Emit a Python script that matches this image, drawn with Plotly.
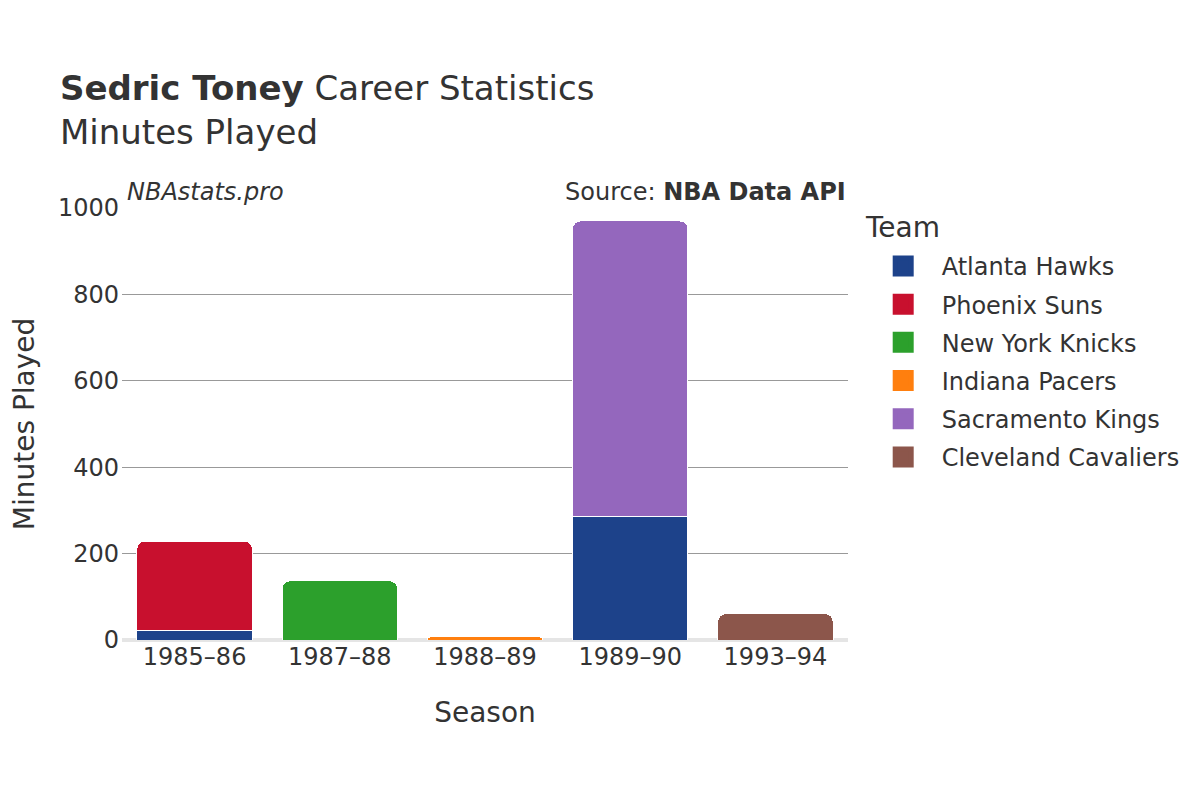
import plotly.graph_objects as go

seasons = ["1985–86", "1987–88", "1988–89", "1989–90", "1993–94"]
teams = ["Atlanta Hawks", "Phoenix Suns", "New York Knicks", "Indiana Pacers", "Sacramento Kings", "Cleveland Cavaliers"]
colors = ["#1d428a", "#c8102e", "#2ca02c", "#ff7f0e", "#9467bd", "#8c564b"]
minutes = {
    "Atlanta Hawks": [23, None, None, 286, None],
    "Phoenix Suns": [206, None, None, None, None],
    "New York Knicks": [None, 137, None, None, None],
    "Indiana Pacers": [None, None, 7, None, None],
    "Sacramento Kings": [None, None, None, 684, None],
    "Cleveland Cavaliers": [None, None, None, None, 61],
}

fig = go.Figure()
for team, color in zip(teams, colors):
    fig.add_trace(go.Bar(
        x=seasons, y=minutes[team], name=team, legendgroup=team, showlegend=False,
        marker=dict(color=color, line=dict(color="white", width=1)),
    ))
    # legend entry with a larger square symbol
    fig.add_trace(go.Scatter(
        x=[None], y=[None], mode="markers", name=team, legendgroup=team,
        marker=dict(symbol="square", size=16, color=color, line=dict(color=color, width=5)),
        hoverinfo="skip",
    ))

font_family = "DejaVu Sans"
fig.update_layout(
    barmode="stack",
    barcornerradius=8,
    bargap=0.204,
    width=1200, height=800,
    margin=dict(l=114, r=360, t=200, b=168),
    paper_bgcolor="white", plot_bgcolor="white",
    font=dict(family=font_family, color="#333333", size=24),
    title=dict(
        text="<b>Sedric Toney</b> Career Statistics<br>Minutes Played",
        x=0.0433, xanchor="left", y=0.885, yanchor="top",
        font=dict(size=34, color="#333333"),
    ),
    xaxis=dict(
        title=dict(text="Season", font=dict(size=28), standoff=32),
        tickfont=dict(size=24),
        showgrid=False,
        automargin=False,
    ),
    yaxis=dict(
        title=dict(text="Minutes Played", font=dict(size=28), standoff=36),
        range=[0, 1000],
        tickvals=[0, 200, 400, 600, 800, 1000],
        tickfont=dict(size=24),
        ticklabelstandoff=2,
        showgrid=True, gridcolor="#999999", gridwidth=1,
        zeroline=True, zerolinecolor="#e5e5e5", zerolinewidth=4,
        automargin=False,
    ),
    legend=dict(
        font=dict(size=24),
        x=1.023, xanchor="left", y=0.917, yanchor="top",
        traceorder="grouped",
        tracegroupgap=4,
        itemsizing="trace",
        itemwidth=67,
    ),
    annotations=[
        dict(text="<i>NBAstats.pro</i>", xref="paper", yref="paper", x=0.0045, y=1.0,
             xanchor="left", yanchor="bottom", showarrow=False, font=dict(size=24)),
        dict(text="Source: <b>NBA Data API</b>", xref="paper", yref="paper", x=1.0, y=1.0,
             xanchor="right", yanchor="bottom", showarrow=False, font=dict(size=24)),
        dict(text="Team", xref="paper", yref="paper", x=1.0207, y=0.956,
             xanchor="left", yanchor="middle", showarrow=False, font=dict(size=28)),
    ],
)

fig.write_html("out.html")
